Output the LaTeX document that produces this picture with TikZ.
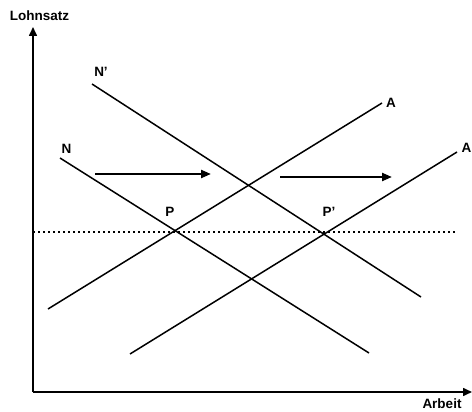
\documentclass[tikz,border=0pt]{standalone}
\usepackage{fontspec}
\setmainfont{Liberation Sans}[UprightFont=* Bold]
\usetikzlibrary{arrows.meta}
\begin{document}
\begin{tikzpicture}[x=1pt,y=-1pt,
  curve/.style={line width=1.5pt},
  axis/.style={line width=1.6pt,-{Triangle[length=9pt,width=8pt]}},
  shift arrow/.style={line width=2.2pt,-{Triangle[length=10pt,width=8pt]}},
  guide/.style={line width=1.5pt,dash pattern=on 1.6pt off 3.4pt},
  lbl/.style={inner sep=0pt,font=\fontsize{13.5}{15}\selectfont}]
\useasboundingbox (0,0) rectangle (472,412);
% axes
\coordinate (O) at (33,392);
\coordinate (ytop) at (33,27);
\coordinate (xend) at (472,392);
\draw[axis] (O) -- (ytop);
\draw[axis] (O) -- (xend);
\node[lbl] (lohn) at (39.5,16) {Lohnsatz};
\node[lbl] (arbeit) at (442,404) {Arbeit};
% curve endpoints
\coordinate (N1s) at (92,84);   \coordinate (N1e) at (421,297);
\coordinate (Ns)  at (60,158);  \coordinate (Ne)  at (369,353);
\coordinate (As)  at (48,309);  \coordinate (Ae)  at (382,103);
\coordinate (A1s) at (130,354); \coordinate (A1e) at (457,152);
\draw[curve] (N1s) -- (N1e);
\draw[curve] (Ns) -- (Ne);
\draw[curve] (As) -- (Ae);
\draw[curve] (A1s) -- (A1e);
% labels
\node[lbl] (lN1) at (101,72) {N'};
\node[lbl] (lN) at (66.5,148.5) {N};
\node[lbl] (lA) at (391,103) {A};
\node[lbl] (lA1) at (466.5,148) {A};
% equilibrium
\coordinate (g1) at (33,232);
\coordinate (g2) at (456,232);
\draw[guide] (g1) -- (g2);
\node[lbl] (lP) at (170,212) {P};
\node[lbl] (lP1) at (329,212) {P'};
% shift arrows
\coordinate (s1a) at (95,174); \coordinate (s1b) at (211,174);
\coordinate (s2a) at (280,177); \coordinate (s2b) at (392,177);
\draw[shift arrow] (s1a) -- (s1b);
\draw[shift arrow] (s2a) -- (s2b);
\end{tikzpicture}
\end{document}
